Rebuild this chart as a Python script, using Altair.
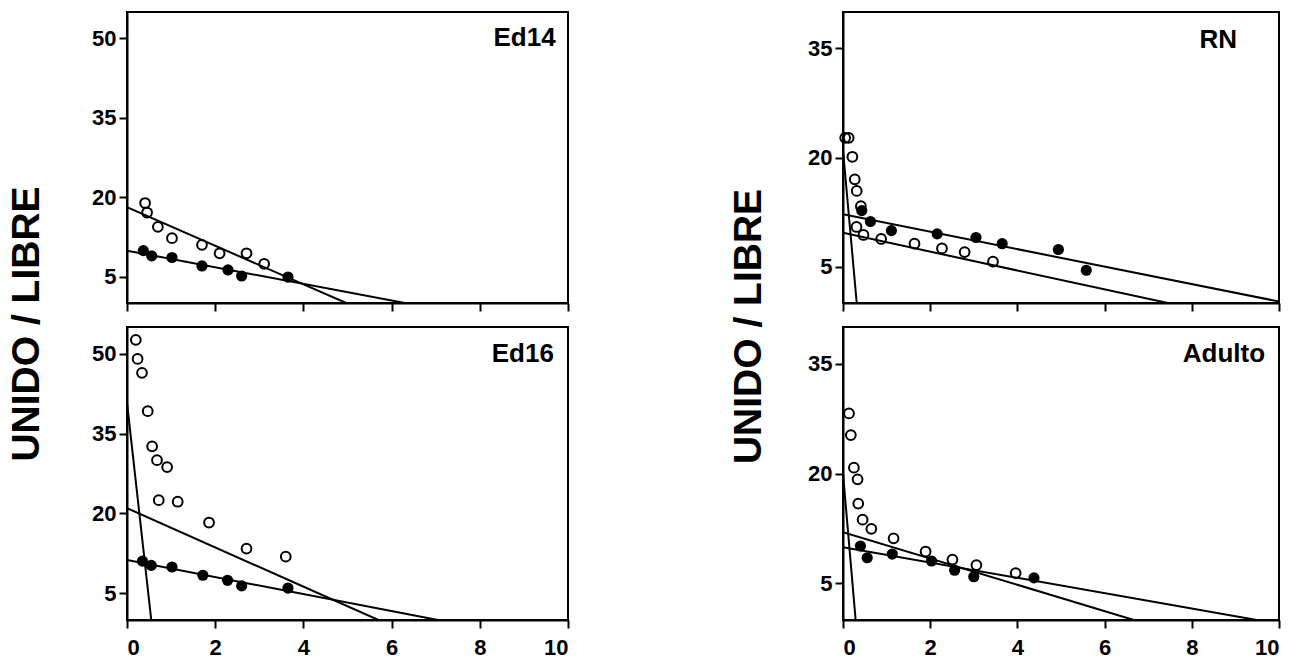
import altair as alt
import pandas as pd

FONT = "Liberation Sans"

# ---- Ed14 ----
ED14_OPEN_X = [0.41, 0.455, 0.70, 1.02, 1.70, 2.10, 2.71, 3.11]
ED14_OPEN_Y = [18.9, 17.1, 14.4, 12.25, 11.0, 9.4, 9.4, 7.4]
ED14_FILLED_X = [0.37, 0.56, 1.02, 1.70, 2.29, 2.60, 3.65]
ED14_FILLED_Y = [9.9, 8.9, 8.6, 7.0, 6.25, 5.1, 4.9]
ED14_FIT_X = [[0.0, 4.97], [0.0, 6.3]]
ED14_FIT_Y = [[18.1, 0.0], [9.9, 0.0]]

# ---- Ed16 ----
ED16_OPEN_X = [0.20, 0.24, 0.34, 0.47, 0.57, 0.68, 0.91, 0.72, 1.15, 1.86, 2.71, 3.60]
ED16_OPEN_Y = [52.6, 49.0, 46.4, 39.2, 32.6, 30.0, 28.7, 22.5, 22.2, 18.3, 13.4, 11.9]
ED16_FILLED_X = [0.35, 0.55, 1.02, 1.72, 2.28, 2.60, 3.65]
ED16_FILLED_Y = [11.05, 10.25, 9.95, 8.4, 7.45, 6.4, 6.0]
ED16_FIT_X = [[0.0, 0.55], [0.0, 5.7], [0.0, 7.05]]
ED16_FIT_Y = [[40.8, 0.0], [21.0, 0.0], [11.25, 0.0]]

# ---- RN ----
RN_OPEN_X = [0.05, 0.13, 0.215, 0.27, 0.315, 0.41, 0.31, 0.47, 0.875, 1.64, 2.27, 2.79, 3.44]
RN_OPEN_Y = [22.7, 22.7, 20.1, 17.0, 15.4, 13.3, 10.45, 9.35, 8.8, 8.15, 7.5, 7.0, 5.7]
RN_FILLED_X = [0.43, 0.63, 1.11, 2.16, 3.05, 3.65, 4.94, 5.58]
RN_FILLED_Y = [12.7, 11.2, 9.95, 9.5, 9.0, 8.15, 7.35, 4.5]
RN_FIT_X = [[0.0, 0.315], [0.0, 10.0], [0.0, 7.45]]
RN_FIT_Y = [[21.0, 0.0], [12.2, 0.2], [9.65, 0.0]]

# ---- Adulto ----
AD_OPEN_X = [0.137, 0.18, 0.25, 0.335, 0.35, 0.45, 0.65, 1.16, 1.895, 2.51, 3.06, 3.96]
AD_OPEN_Y = [28.2, 25.25, 20.8, 19.2, 15.9, 13.7, 12.45, 11.15, 9.35, 8.25, 7.5, 6.4]
AD_FILLED_X = [0.40, 0.555, 1.13, 2.03, 2.56, 3.00, 4.38]
AD_FILLED_Y = [10.1, 8.5, 9.0, 8.05, 6.8, 5.9, 5.75]
AD_FIT_X = [[0.0, 0.29], [0.0, 6.67], [0.0, 9.49]]
AD_FIT_Y = [[20.0, 0.0], [12.0, 0.0], [9.95, 0.0]]

X_TICKS = [0, 2, 4, 6, 8, 10]
LEFT_Y_TICKS = [5, 20, 35, 50]
RIGHT_Y_TICKS = [5, 20, 35]
Y_TITLE = "UNIDO / LIBRE"


def panel(name, ox, oy, fx, fy, fit_x, fit_y, label_xy, ydom, yticks,
          width, height, xlabels, ytitle=None, title_xy=None):
    x_scale = alt.Scale(domain=[0, 10], nice=False, zero=False)
    y_scale = alt.Scale(domain=ydom, nice=False, zero=False)

    x_axis = alt.Axis(values=X_TICKS, labels=xlabels, title=None)
    if ytitle:
        y_axis = alt.Axis(values=yticks, title=ytitle, titleAngle=270,
                          titleAlign="center", titleBaseline="alphabetic",
                          titleX=title_xy[0], titleY=title_xy[1])
    else:
        y_axis = alt.Axis(values=yticks, title=None)

    fits = pd.DataFrame([
        {"x": xv, "y": yv, "fit": i}
        for i, (xs, ys) in enumerate(zip(fit_x, fit_y))
        for xv, yv in zip(xs, ys)
    ])
    opened = pd.DataFrame({"x": ox, "y": oy})
    filled = pd.DataFrame({"x": fx, "y": fy})
    lab = pd.DataFrame({"x": [label_xy[0]], "y": [label_xy[1]], "t": [name]})

    lines = alt.Chart(fits).mark_line(color="black", strokeWidth=2, clip=True).encode(
        x=alt.X("x:Q", scale=x_scale, axis=x_axis),
        y=alt.Y("y:Q", scale=y_scale, axis=y_axis),
        detail="fit:N",
    )
    open_pts = alt.Chart(opened).mark_point(
        shape="circle", filled=False, color="black", strokeWidth=2, size=95, opacity=1
    ).encode(x="x:Q", y="y:Q")
    fill_pts = alt.Chart(filled).mark_point(
        shape="circle", filled=True, color="black", size=125, opacity=1
    ).encode(x="x:Q", y="y:Q")
    label = alt.Chart(lab).mark_text(
        font=FONT, fontWeight="bold", fontSize=26, align="right",
        baseline="middle", color="black"
    ).encode(x="x:Q", y="y:Q", text="t:N")

    return alt.layer(lines, open_pts, fill_pts, label).properties(
        width=width, height=height
    )


ed14 = panel("Ed14", ED14_OPEN_X, ED14_OPEN_Y, ED14_FILLED_X, ED14_FILLED_Y,
             ED14_FIT_X, ED14_FIT_Y, (9.72, 50.0), [0, 55], LEFT_Y_TICKS,
             441, 291, False, Y_TITLE, (-89, 311.5))
ed16 = panel("Ed16", ED16_OPEN_X, ED16_OPEN_Y, ED16_FILLED_X, ED16_FILLED_Y,
             ED16_FIT_X, ED16_FIT_Y, (9.68, 50.0), [0, 55], LEFT_Y_TICKS,
             441, 293, True)
rn = panel("RN", RN_OPEN_X, RN_OPEN_Y, RN_FILLED_X, RN_FILLED_Y,
           RN_FIT_X, RN_FIT_Y, (9.04, 36.2), [0, 40], RIGHT_Y_TICKS,
           436, 291, False, Y_TITLE, (-83, 314))
adulto = panel("Adulto", AD_OPEN_X, AD_OPEN_Y, AD_FILLED_X, AD_FILLED_Y,
               AD_FIT_X, AD_FIT_Y, (9.68, 36.3), [0, 40], RIGHT_Y_TICKS,
               436, 293, True)

left = alt.vconcat(ed14, ed16, spacing=24, bounds="flush")
right = alt.vconcat(rn, adulto, spacing=24, bounds="flush")

chart = alt.hconcat(left, right, spacing=158).properties(
    padding={"left": 6, "top": 11, "right": 5, "bottom": 0},
    background="white",
).configure_view(
    stroke="black", strokeWidth=2
).configure_axis(
    domainColor="black", domainWidth=2, tickColor="black", tickWidth=2,
    tickSize=8, grid=False, labelFont=FONT, labelFontWeight="bold",
    labelFontSize=22, labelColor="black", labelPadding=3,
    titleFont=FONT, titleFontWeight="bold", titleFontSize=39, titleColor="black",
).configure_axisX(
    labelPadding=9
)

chart.save("out.html", embed_options={"renderer": "svg", "actions": False})
